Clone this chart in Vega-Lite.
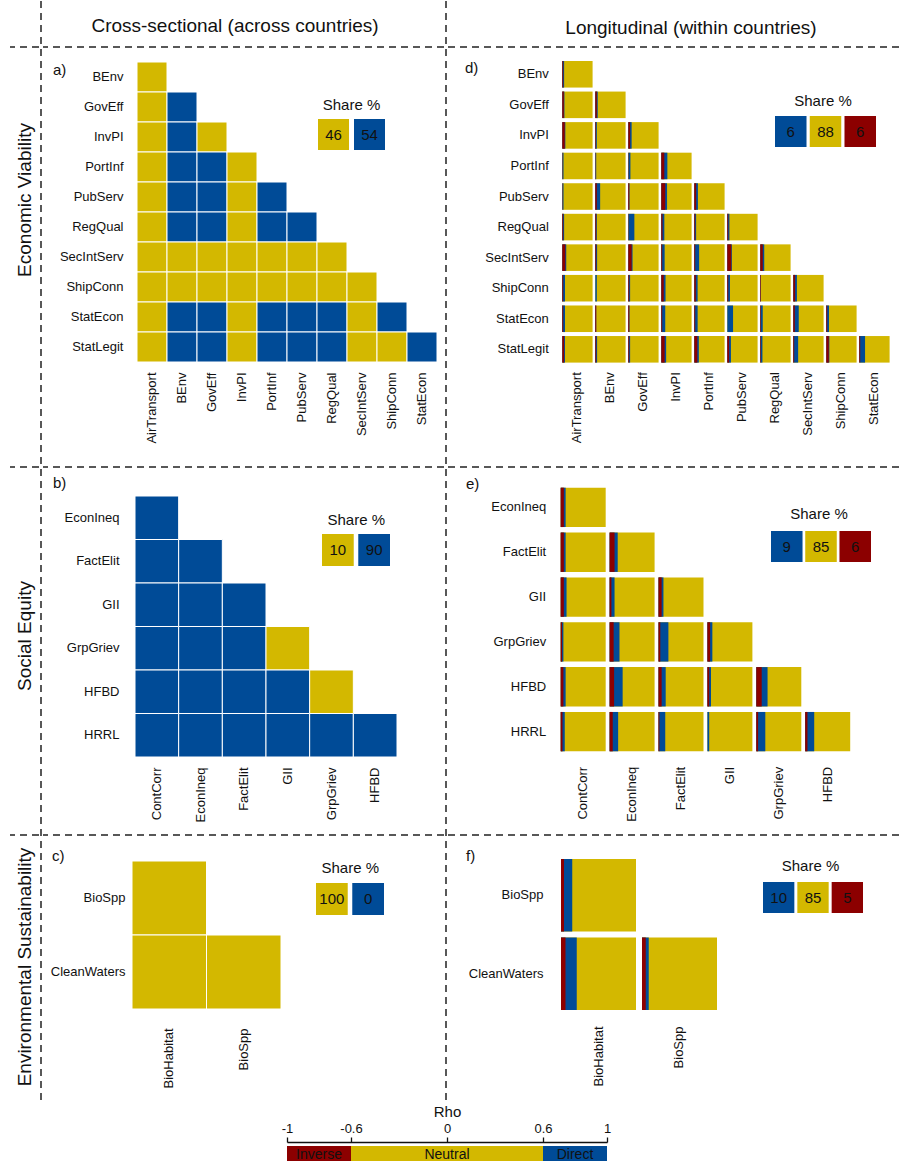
{
  "$schema": "https://vega.github.io/schema/vega-lite/v6.json",
  "padding": {"left": 9, "top": 0, "right": 0, "bottom": 0},
  "background": "white",
  "config": {
    "view": {"stroke": null},
    "font": "Liberation Sans",
    "axis": {"ticks": false, "domain": false, "grid": false, "labelFontSize": 13, "labelColor": "#111111"},
    "text": {"color": "#111111"}
  },
  "datasets": {
    "A": [
      {"r":"BEnv","c":"AirTransport","k":"Neutral"},
      {"r":"GovEff","c":"AirTransport","k":"Neutral"},{"r":"GovEff","c":"BEnv","k":"Direct"},
      {"r":"InvPI","c":"AirTransport","k":"Neutral"},{"r":"InvPI","c":"BEnv","k":"Direct"},{"r":"InvPI","c":"GovEff","k":"Neutral"},
      {"r":"PortInf","c":"AirTransport","k":"Neutral"},{"r":"PortInf","c":"BEnv","k":"Direct"},{"r":"PortInf","c":"GovEff","k":"Direct"},{"r":"PortInf","c":"InvPI","k":"Neutral"},
      {"r":"PubServ","c":"AirTransport","k":"Neutral"},{"r":"PubServ","c":"BEnv","k":"Direct"},{"r":"PubServ","c":"GovEff","k":"Direct"},{"r":"PubServ","c":"InvPI","k":"Neutral"},{"r":"PubServ","c":"PortInf","k":"Direct"},
      {"r":"RegQual","c":"AirTransport","k":"Neutral"},{"r":"RegQual","c":"BEnv","k":"Direct"},{"r":"RegQual","c":"GovEff","k":"Direct"},{"r":"RegQual","c":"InvPI","k":"Neutral"},{"r":"RegQual","c":"PortInf","k":"Direct"},{"r":"RegQual","c":"PubServ","k":"Direct"},
      {"r":"SecIntServ","c":"AirTransport","k":"Neutral"},{"r":"SecIntServ","c":"BEnv","k":"Neutral"},{"r":"SecIntServ","c":"GovEff","k":"Neutral"},{"r":"SecIntServ","c":"InvPI","k":"Neutral"},{"r":"SecIntServ","c":"PortInf","k":"Neutral"},{"r":"SecIntServ","c":"PubServ","k":"Neutral"},{"r":"SecIntServ","c":"RegQual","k":"Neutral"},
      {"r":"ShipConn","c":"AirTransport","k":"Neutral"},{"r":"ShipConn","c":"BEnv","k":"Neutral"},{"r":"ShipConn","c":"GovEff","k":"Neutral"},{"r":"ShipConn","c":"InvPI","k":"Neutral"},{"r":"ShipConn","c":"PortInf","k":"Neutral"},{"r":"ShipConn","c":"PubServ","k":"Neutral"},{"r":"ShipConn","c":"RegQual","k":"Neutral"},{"r":"ShipConn","c":"SecIntServ","k":"Neutral"},
      {"r":"StatEcon","c":"AirTransport","k":"Neutral"},{"r":"StatEcon","c":"BEnv","k":"Direct"},{"r":"StatEcon","c":"GovEff","k":"Direct"},{"r":"StatEcon","c":"InvPI","k":"Neutral"},{"r":"StatEcon","c":"PortInf","k":"Direct"},{"r":"StatEcon","c":"PubServ","k":"Direct"},{"r":"StatEcon","c":"RegQual","k":"Direct"},{"r":"StatEcon","c":"SecIntServ","k":"Neutral"},{"r":"StatEcon","c":"ShipConn","k":"Direct"},
      {"r":"StatLegit","c":"AirTransport","k":"Neutral"},{"r":"StatLegit","c":"BEnv","k":"Direct"},{"r":"StatLegit","c":"GovEff","k":"Direct"},{"r":"StatLegit","c":"InvPI","k":"Neutral"},{"r":"StatLegit","c":"PortInf","k":"Direct"},{"r":"StatLegit","c":"PubServ","k":"Direct"},{"r":"StatLegit","c":"RegQual","k":"Direct"},{"r":"StatLegit","c":"SecIntServ","k":"Neutral"},{"r":"StatLegit","c":"ShipConn","k":"Neutral"},{"r":"StatLegit","c":"StatEcon","k":"Direct"}
    ],
    "B": [
      {"r":"EconIneq","c":"ContCorr","k":"Direct"},
      {"r":"FactElit","c":"ContCorr","k":"Direct"},{"r":"FactElit","c":"EconIneq","k":"Direct"},
      {"r":"GII","c":"ContCorr","k":"Direct"},{"r":"GII","c":"EconIneq","k":"Direct"},{"r":"GII","c":"FactElit","k":"Direct"},
      {"r":"GrpGriev","c":"ContCorr","k":"Direct"},{"r":"GrpGriev","c":"EconIneq","k":"Direct"},{"r":"GrpGriev","c":"FactElit","k":"Direct"},{"r":"GrpGriev","c":"GII","k":"Neutral"},
      {"r":"HFBD","c":"ContCorr","k":"Direct"},{"r":"HFBD","c":"EconIneq","k":"Direct"},{"r":"HFBD","c":"FactElit","k":"Direct"},{"r":"HFBD","c":"GII","k":"Direct"},{"r":"HFBD","c":"GrpGriev","k":"Neutral"},
      {"r":"HRRL","c":"ContCorr","k":"Direct"},{"r":"HRRL","c":"EconIneq","k":"Direct"},{"r":"HRRL","c":"FactElit","k":"Direct"},{"r":"HRRL","c":"GII","k":"Direct"},{"r":"HRRL","c":"GrpGriev","k":"Direct"},{"r":"HRRL","c":"HFBD","k":"Direct"}
    ],
    "C": [
      {"r":"BioSpp","c":"BioHabitat","k":"Neutral"},
      {"r":"CleanWaters","c":"BioHabitat","k":"Neutral"},{"r":"CleanWaters","c":"BioSpp","k":"Neutral"}
    ],
    "D": [
      {"r":"BEnv","c":"AirTransport","inv":3,"dir":3,"neu":94},
      {"r":"GovEff","c":"AirTransport","inv":5,"dir":2,"neu":93},{"r":"GovEff","c":"BEnv","inv":5,"dir":3,"neu":92},
      {"r":"InvPI","c":"AirTransport","inv":8,"dir":2,"neu":90},{"r":"InvPI","c":"BEnv","inv":2,"dir":3,"neu":95},{"r":"InvPI","c":"GovEff","inv":6,"dir":5,"neu":89},
      {"r":"PortInf","c":"AirTransport","inv":1,"dir":3,"neu":96},{"r":"PortInf","c":"BEnv","inv":1,"dir":2,"neu":97},{"r":"PortInf","c":"GovEff","inv":1,"dir":6,"neu":93},{"r":"PortInf","c":"InvPI","inv":10,"dir":10,"neu":80},
      {"r":"PubServ","c":"AirTransport","inv":1,"dir":3,"neu":96},{"r":"PubServ","c":"BEnv","inv":5,"dir":11,"neu":84},{"r":"PubServ","c":"GovEff","inv":3,"dir":1,"neu":96},{"r":"PubServ","c":"InvPI","inv":13,"dir":6,"neu":81},{"r":"PubServ","c":"PortInf","inv":6,"dir":6,"neu":88},
      {"r":"RegQual","c":"AirTransport","inv":3,"dir":3,"neu":94},{"r":"RegQual","c":"BEnv","inv":3,"dir":2,"neu":95},{"r":"RegQual","c":"GovEff","inv":1,"dir":19,"neu":80},{"r":"RegQual","c":"InvPI","inv":4,"dir":6,"neu":90},{"r":"RegQual","c":"PortInf","inv":3,"dir":3,"neu":94},{"r":"RegQual","c":"PubServ","inv":3,"dir":4,"neu":93},
      {"r":"SecIntServ","c":"AirTransport","inv":10,"dir":3,"neu":87},{"r":"SecIntServ","c":"BEnv","inv":3,"dir":3,"neu":94},{"r":"SecIntServ","c":"GovEff","inv":11,"dir":3,"neu":86},{"r":"SecIntServ","c":"InvPI","inv":3,"dir":8,"neu":89},{"r":"SecIntServ","c":"PortInf","inv":3,"dir":13,"neu":84},{"r":"SecIntServ","c":"PubServ","inv":13,"dir":2,"neu":85},{"r":"SecIntServ","c":"RegQual","inv":8,"dir":5,"neu":87},
      {"r":"ShipConn","c":"AirTransport","inv":3,"dir":6,"neu":91},{"r":"ShipConn","c":"BEnv","inv":0,"dir":5,"neu":95},{"r":"ShipConn","c":"GovEff","inv":3,"dir":3,"neu":94},{"r":"ShipConn","c":"InvPI","inv":8,"dir":6,"neu":86},{"r":"ShipConn","c":"PortInf","inv":5,"dir":6,"neu":89},{"r":"ShipConn","c":"PubServ","inv":3,"dir":6,"neu":91},{"r":"ShipConn","c":"RegQual","inv":2,"dir":0,"neu":98},{"r":"ShipConn","c":"SecIntServ","inv":6,"dir":6,"neu":88},
      {"r":"StatEcon","c":"AirTransport","inv":3,"dir":6,"neu":91},{"r":"StatEcon","c":"BEnv","inv":3,"dir":0,"neu":97},{"r":"StatEcon","c":"GovEff","inv":3,"dir":1,"neu":96},{"r":"StatEcon","c":"InvPI","inv":3,"dir":10,"neu":87},{"r":"StatEcon","c":"PortInf","inv":3,"dir":8,"neu":89},{"r":"StatEcon","c":"PubServ","inv":0,"dir":19,"neu":81},{"r":"StatEcon","c":"RegQual","inv":2,"dir":6,"neu":92},{"r":"StatEcon","c":"SecIntServ","inv":5,"dir":13,"neu":82},{"r":"StatEcon","c":"ShipConn","inv":3,"dir":6,"neu":91},
      {"r":"StatLegit","c":"AirTransport","inv":6,"dir":3,"neu":91},{"r":"StatLegit","c":"BEnv","inv":3,"dir":3,"neu":94},{"r":"StatLegit","c":"GovEff","inv":3,"dir":3,"neu":94},{"r":"StatLegit","c":"InvPI","inv":11,"dir":5,"neu":84},{"r":"StatLegit","c":"PortInf","inv":10,"dir":5,"neu":85},{"r":"StatLegit","c":"PubServ","inv":6,"dir":6,"neu":88},{"r":"StatLegit","c":"RegQual","inv":2,"dir":5,"neu":93},{"r":"StatLegit","c":"SecIntServ","inv":3,"dir":13,"neu":84},{"r":"StatLegit","c":"ShipConn","inv":8,"dir":2,"neu":90},{"r":"StatLegit","c":"StatEcon","inv":3,"dir":16,"neu":81}
    ],
    "E": [
      {"r":"EconIneq","c":"ContCorr","inv":7,"dir":4,"neu":89},
      {"r":"FactElit","c":"ContCorr","inv":7,"dir":4,"neu":89},{"r":"FactElit","c":"EconIneq","inv":11,"dir":7,"neu":82},
      {"r":"GII","c":"ContCorr","inv":7,"dir":6,"neu":87},{"r":"GII","c":"EconIneq","inv":4,"dir":7,"neu":89},{"r":"GII","c":"FactElit","inv":7,"dir":4,"neu":89},
      {"r":"GrpGriev","c":"ContCorr","inv":3,"dir":3,"neu":94},{"r":"GrpGriev","c":"EconIneq","inv":9,"dir":13,"neu":78},{"r":"GrpGriev","c":"FactElit","inv":4,"dir":18,"neu":78},{"r":"GrpGriev","c":"GII","inv":6,"dir":5,"neu":89},
      {"r":"HFBD","c":"ContCorr","inv":6,"dir":5,"neu":89},{"r":"HFBD","c":"EconIneq","inv":10,"dir":19,"neu":71},{"r":"HFBD","c":"FactElit","inv":7,"dir":9,"neu":84},{"r":"HFBD","c":"GII","inv":4,"dir":4,"neu":92},{"r":"HFBD","c":"GrpGriev","inv":12,"dir":13,"neu":75},
      {"r":"HRRL","c":"ContCorr","inv":4,"dir":5,"neu":91},{"r":"HRRL","c":"EconIneq","inv":7,"dir":12,"neu":81},{"r":"HRRL","c":"FactElit","inv":2,"dir":13,"neu":85},{"r":"HRRL","c":"GII","inv":0,"dir":4,"neu":96},{"r":"HRRL","c":"GrpGriev","inv":4,"dir":16,"neu":80},{"r":"HRRL","c":"HFBD","inv":5,"dir":15,"neu":80}
    ],
    "F": [
      {"r":"BioSpp","c":"BioHabitat","inv":4,"dir":11,"neu":85},
      {"r":"CleanWaters","c":"BioHabitat","inv":6,"dir":15,"neu":79},{"r":"CleanWaters","c":"BioSpp","inv":5,"dir":4,"neu":91}
    ],
    "legA": [{"k":"Neutral","p":"46"},{"k":"Direct","p":"54"}],
    "legB": [{"k":"Neutral","p":"10"},{"k":"Direct","p":"90"}],
    "legC": [{"k":"Neutral","p":"100"},{"k":"Direct","p":"0"}],
    "legD": [{"k":"Direct","p":"6"},{"k":"Neutral","p":"88"},{"k":"Inverse","p":"6"}],
    "legE": [{"k":"Direct","p":"9"},{"k":"Neutral","p":"85"},{"k":"Inverse","p":"6"}],
    "legF": [{"k":"Direct","p":"10"},{"k":"Neutral","p":"85"},{"k":"Inverse","p":"5"}],
    "rho": [
      {"k":"Inverse","lo":-1,"hi":-0.6,"mid":-0.8},
      {"k":"Neutral","lo":-0.6,"hi":0.6,"mid":0},
      {"k":"Direct","lo":0.6,"hi":1,"mid":0.8}
    ]
  },
  "spacing": 0,
  "vconcat": [
    {
      "spacing": 0,
      "hconcat": [
        {
          "spacing": 0,
          "vconcat": [
            {"width": 29, "height": 45, "data": {"values": []}, "mark": "rect", "encoding": {}},
            {"width": 29, "height": 1, "data": {"values": [{}]}, "mark": {"type": "rule", "color": "#222222", "strokeWidth": 1.5, "strokeDash": [7, 5]}, "encoding": {"y": {"datum": 0, "type": "quantitative", "scale": {"domain": [0, 1]}, "axis": null}}},
            {"width": 29, "height": 418, "data": {"values": [{"t": "Economic Viability"}]}, "mark": {"type": "text", "angle": 270, "align": "center", "baseline": "alphabetic", "fontSize": 19, "dx": 57, "dy": 6}, "encoding": {"text": {"field": "t"}}},
            {"width": 29, "height": 1, "data": {"values": [{}]}, "mark": {"type": "rule", "color": "#222222", "strokeWidth": 1.5, "strokeDash": [7, 5]}, "encoding": {"y": {"datum": 0, "type": "quantitative", "scale": {"domain": [0, 1]}, "axis": null}}},
            {"width": 29, "height": 366, "data": {"values": [{"t": "Social Equity"}]}, "mark": {"type": "text", "angle": 270, "align": "center", "baseline": "alphabetic", "fontSize": 19, "dx": 15, "dy": 6}, "encoding": {"text": {"field": "t"}}},
            {"width": 29, "height": 1, "data": {"values": [{}]}, "mark": {"type": "rule", "color": "#222222", "strokeWidth": 1.5, "strokeDash": [7, 5]}, "encoding": {"y": {"datum": 0, "type": "quantitative", "scale": {"domain": [0, 1]}, "axis": null}}},
            {"width": 29, "height": 264, "data": {"values": [{"t": "Environmental Sustainability"}]}, "mark": {"type": "text", "angle": 270, "align": "center", "baseline": "alphabetic", "fontSize": 19, "dx": 1, "dy": 6}, "encoding": {"text": {"field": "t"}}}
          ]
        },
        {"width": 1, "height": 1099, "data": {"values": [{}]}, "mark": {"type": "rule", "color": "#222222", "strokeWidth": 1.5, "strokeDash": [7, 5]}, "encoding": {"x": {"datum": 0, "type": "quantitative", "scale": {"domain": [0, 1]}, "axis": null}}},
        {
          "spacing": 0,
          "vconcat": [
            {"width": 401, "height": 45, "data": {"values": [{"t": "Cross-sectional (across countries)"}]}, "mark": {"type": "text", "align": "center", "baseline": "alphabetic", "fontSize": 19, "dx": -8.5, "dy": 8.5}, "encoding": {"text": {"field": "t"}}},
            {"width": 401, "height": 1, "data": {"values": [{}]}, "mark": {"type": "rule", "color": "#222222", "strokeWidth": 1.5, "strokeDash": [7, 5]}, "encoding": {"y": {"datum": 0, "type": "quantitative", "scale": {"domain": [0, 1]}, "axis": null}}},
            {
              "width": 401, "height": 418,
              "layer": [
                {
                  "data": {"name": "A"},
                  "mark": {"type": "rect", "stroke": "#ffffff", "strokeWidth": 1},
                  "encoding": {
                    "x": {"field": "c", "type": "nominal", "scale": {"domain": ["AirTransport","BEnv","GovEff","InvPI","PortInf","PubServ","RegQual","SecIntServ","ShipConn","StatEcon"], "range": [94, 394], "paddingInner": 0, "paddingOuter": 0}, "axis": {"orient": "bottom", "offset": -104, "title": null, "labelAngle": -90, "labelPadding": 10}},
                    "y": {"field": "r", "type": "nominal", "scale": {"domain": ["BEnv","GovEff","InvPI","PortInf","PubServ","RegQual","SecIntServ","ShipConn","StatEcon","StatLegit"], "range": [14, 314], "paddingInner": 0, "paddingOuter": 0}, "axis": {"orient": "left", "offset": -94, "title": null, "labelPadding": 14}},
                    "color": {"field": "k", "type": "nominal", "scale": {"domain": ["Inverse","Neutral","Direct"], "range": ["#8c0000","#d3b800","#004b97"]}, "legend": null}
                  }
                },
                {
                  "layer": [
                    {"data": {"name": "legA"}, "mark": {"type": "rect"}, "encoding": {
                      "x": {"field": "k", "type": "nominal", "scale": {"domain": ["Neutral","Direct"], "range": [275, 342], "paddingInner": 0.139, "paddingOuter": 0}, "axis": null},
                      "y": {"datum": "box", "type": "nominal", "scale": {"domain": ["box"], "range": [71, 102], "paddingInner": 0, "paddingOuter": 0}, "axis": null},
                      "color": {"field": "k", "type": "nominal", "scale": {"domain": ["Inverse","Neutral","Direct"], "range": ["#8c0000","#d3b800","#004b97"]}, "legend": null}}},
                    {"data": {"name": "legA"}, "mark": {"type": "text", "fontSize": 15}, "encoding": {
                      "x": {"field": "k", "type": "nominal"}, "y": {"datum": "box", "type": "nominal"}, "text": {"field": "p", "type": "nominal"}}},
                    {"data": {"values": [{"t": "Share %"}]}, "mark": {"type": "text", "fontSize": 15, "baseline": "alphabetic", "dx": 2.5, "dy": -9}, "encoding": {
                      "x": {"datum": "Neutral", "type": "nominal", "bandPosition": 1}, "y": {"datum": "box", "type": "nominal", "bandPosition": 0}, "text": {"field": "t"}}}
                  ]
                },
                {"data": {"values": [{"t": "a)"}]}, "mark": {"type": "text", "align": "left", "baseline": "middle", "fontSize": 15, "dx": -190.5, "dy": -187}, "encoding": {"text": {"field": "t"}}}
              ],
              "resolve": {"scale": {"x": "independent", "y": "independent"}}
            },
            {"width": 401, "height": 1, "data": {"values": [{}]}, "mark": {"type": "rule", "color": "#222222", "strokeWidth": 1.5, "strokeDash": [7, 5]}, "encoding": {"y": {"datum": 0, "type": "quantitative", "scale": {"domain": [0, 1]}, "axis": null}}},
            {
              "width": 401, "height": 366,
              "layer": [
                {
                  "data": {"name": "B"},
                  "mark": {"type": "rect", "stroke": "#ffffff", "strokeWidth": 1},
                  "encoding": {
                    "x": {"field": "c", "type": "nominal", "scale": {"domain": ["ContCorr","EconIneq","FactElit","GII","GrpGriev","HFBD"], "range": [92, 354], "paddingInner": 0, "paddingOuter": 0}, "axis": {"orient": "bottom", "offset": -77, "title": null, "labelAngle": -90, "labelPadding": 10}},
                    "y": {"field": "r", "type": "nominal", "scale": {"domain": ["EconIneq","FactElit","GII","GrpGriev","HFBD","HRRL"], "range": [28, 289], "paddingInner": 0, "paddingOuter": 0}, "axis": {"orient": "left", "offset": -92, "title": null, "labelPadding": 16}},
                    "color": {"field": "k", "type": "nominal", "scale": {"domain": ["Inverse","Neutral","Direct"], "range": ["#8c0000","#d3b800","#004b97"]}, "legend": null}
                  }
                },
                {
                  "layer": [
                    {"data": {"name": "legB"}, "mark": {"type": "rect"}, "encoding": {
                      "x": {"field": "k", "type": "nominal", "scale": {"domain": ["Neutral","Direct"], "range": [279, 347], "paddingInner": 0.125, "paddingOuter": 0}, "axis": null},
                      "y": {"datum": "box", "type": "nominal", "scale": {"domain": ["box"], "range": [66, 98], "paddingInner": 0, "paddingOuter": 0}, "axis": null},
                      "color": {"field": "k", "type": "nominal", "scale": {"domain": ["Inverse","Neutral","Direct"], "range": ["#8c0000","#d3b800","#004b97"]}, "legend": null}}},
                    {"data": {"name": "legB"}, "mark": {"type": "text", "fontSize": 15}, "encoding": {
                      "x": {"field": "k", "type": "nominal"}, "y": {"datum": "box", "type": "nominal"}, "text": {"field": "p", "type": "nominal"}}},
                    {"data": {"values": [{"t": "Share %"}]}, "mark": {"type": "text", "fontSize": 15, "baseline": "alphabetic", "dx": 2.5, "dy": -9}, "encoding": {
                      "x": {"datum": "Neutral", "type": "nominal", "bandPosition": 1}, "y": {"datum": "box", "type": "nominal", "bandPosition": 0}, "text": {"field": "t"}}}
                  ]
                },
                {"data": {"values": [{"t": "b)"}]}, "mark": {"type": "text", "align": "left", "baseline": "middle", "fontSize": 15, "dx": -190.5, "dy": -168}, "encoding": {"text": {"field": "t"}}}
              ],
              "resolve": {"scale": {"x": "independent", "y": "independent"}}
            },
            {"width": 401, "height": 1, "data": {"values": [{}]}, "mark": {"type": "rule", "color": "#222222", "strokeWidth": 1.5, "strokeDash": [7, 5]}, "encoding": {"y": {"datum": 0, "type": "quantitative", "scale": {"domain": [0, 1]}, "axis": null}}},
            {
              "width": 401, "height": 264,
              "layer": [
                {
                  "data": {"name": "C"},
                  "mark": {"type": "rect", "stroke": "#ffffff", "strokeWidth": 1},
                  "encoding": {
                    "x": {"field": "c", "type": "nominal", "scale": {"domain": ["BioHabitat","BioSpp"], "range": [89, 238], "paddingInner": 0, "paddingOuter": 0}, "axis": {"orient": "bottom", "offset": -91, "title": null, "labelAngle": -90, "labelPadding": 19}},
                    "y": {"field": "r", "type": "nominal", "scale": {"domain": ["BioSpp","CleanWaters"], "range": [25, 173], "paddingInner": 0, "paddingOuter": 0}, "axis": {"orient": "left", "offset": -89, "title": null, "labelPadding": 7}},
                    "color": {"field": "k", "type": "nominal", "scale": {"domain": ["Inverse","Neutral","Direct"], "range": ["#8c0000","#d3b800","#004b97"]}, "legend": null}
                  }
                },
                {
                  "layer": [
                    {"data": {"name": "legC"}, "mark": {"type": "rect"}, "encoding": {
                      "x": {"field": "k", "type": "nominal", "scale": {"domain": ["Neutral","Direct"], "range": [273, 341], "paddingInner": 0.125, "paddingOuter": 0}, "axis": null},
                      "y": {"datum": "box", "type": "nominal", "scale": {"domain": ["box"], "range": [47, 79], "paddingInner": 0, "paddingOuter": 0}, "axis": null},
                      "color": {"field": "k", "type": "nominal", "scale": {"domain": ["Inverse","Neutral","Direct"], "range": ["#8c0000","#d3b800","#004b97"]}, "legend": null}}},
                    {"data": {"name": "legC"}, "mark": {"type": "text", "fontSize": 15}, "encoding": {
                      "x": {"field": "k", "type": "nominal"}, "y": {"datum": "box", "type": "nominal"}, "text": {"field": "p", "type": "nominal"}}},
                    {"data": {"values": [{"t": "Share %"}]}, "mark": {"type": "text", "fontSize": 15, "baseline": "alphabetic", "dx": 2.5, "dy": -10}, "encoding": {
                      "x": {"datum": "Neutral", "type": "nominal", "bandPosition": 1}, "y": {"datum": "box", "type": "nominal", "bandPosition": 0}, "text": {"field": "t"}}}
                  ]
                },
                {"data": {"values": [{"t": "c)"}]}, "mark": {"type": "text", "align": "left", "baseline": "middle", "fontSize": 15, "dx": -191.5, "dy": -112}, "encoding": {"text": {"field": "t"}}}
              ],
              "resolve": {"scale": {"x": "independent", "y": "independent"}}
            }
          ]
        },
        {"width": 1, "height": 1099, "data": {"values": [{}]}, "mark": {"type": "rule", "color": "#222222", "strokeWidth": 1.5, "strokeDash": [7, 5]}, "encoding": {"x": {"datum": 0, "type": "quantitative", "scale": {"domain": [0, 1]}, "axis": null}}},
        {
          "spacing": 0,
          "vconcat": [
            {"width": 451, "height": 45, "data": {"values": [{"t": "Longitudinal (within countries)"}]}, "mark": {"type": "text", "align": "center", "baseline": "alphabetic", "fontSize": 19, "dx": 17.5, "dy": 10.5}, "encoding": {"text": {"field": "t"}}},
            {"width": 451, "height": 1, "data": {"values": [{}]}, "mark": {"type": "rule", "color": "#222222", "strokeWidth": 1.5, "strokeDash": [7, 5]}, "encoding": {"y": {"datum": 0, "type": "quantitative", "scale": {"domain": [0, 1]}, "axis": null}}},
            {
              "width": 451, "height": 418,
              "layer": [
                {
                  "data": {"name": "D"},
                  "layer": [
                    {"mark": {"type": "rect", "color": "#d3b800"}, "encoding": {
                      "x": {"field": "c", "type": "nominal", "scale": {"domain": ["AirTransport","BEnv","GovEff","InvPI","PortInf","PubServ","RegQual","SecIntServ","ShipConn","StatEcon"], "range": [114.3, 441.6], "paddingInner": 0.082, "paddingOuter": 0}, "axis": {"orient": "bottom", "offset": -103.3, "title": null, "labelAngle": -90, "labelPadding": 9}},
                      "y": {"field": "r", "type": "nominal", "scale": {"domain": ["BEnv","GovEff","InvPI","PortInf","PubServ","RegQual","SecIntServ","ShipConn","StatEcon","StatLegit"], "range": [13, 314.6], "paddingInner": 0.131, "paddingOuter": 0}, "axis": {"orient": "left", "offset": -114.3, "title": null, "labelPadding": 14}}}},
                    {"mark": {"type": "bar", "orient": "vertical", "align": "left", "color": "#004b97"}, "encoding": {
                      "x": {"field": "c", "type": "nominal"}, "y": {"field": "r", "type": "nominal"},
                      "size": {"field": "neu", "type": "quantitative", "scale": {"domain": [0, 100], "range": [30.29, 0]}, "legend": null}}},
                    {"mark": {"type": "bar", "orient": "vertical", "align": "left", "color": "#8c0000"}, "encoding": {
                      "x": {"field": "c", "type": "nominal"}, "y": {"field": "r", "type": "nominal"},
                      "size": {"field": "inv", "type": "quantitative", "scale": {"domain": [0, 100], "range": [0, 30.29]}, "legend": null}}}
                  ],
                  "resolve": {"scale": {"size": "independent"}}
                },
                {
                  "layer": [
                    {"data": {"name": "legD"}, "mark": {"type": "rect"}, "encoding": {
                      "x": {"field": "k", "type": "nominal", "scale": {"domain": ["Direct","Neutral","Inverse"], "range": [327, 428], "paddingInner": 0.093, "paddingOuter": 0}, "axis": null},
                      "y": {"datum": "box", "type": "nominal", "scale": {"domain": ["box"], "range": [68, 99], "paddingInner": 0, "paddingOuter": 0}, "axis": null},
                      "color": {"field": "k", "type": "nominal", "scale": {"domain": ["Inverse","Neutral","Direct"], "range": ["#8c0000","#d3b800","#004b97"]}, "legend": null}}},
                    {"data": {"name": "legD"}, "mark": {"type": "text", "fontSize": 15}, "encoding": {
                      "x": {"field": "k", "type": "nominal"}, "y": {"datum": "box", "type": "nominal"}, "text": {"field": "p", "type": "nominal"}}},
                    {"data": {"values": [{"t": "Share %"}]}, "mark": {"type": "text", "fontSize": 15, "baseline": "alphabetic", "dx": -2.5, "dy": -10}, "encoding": {
                      "x": {"datum": "Neutral", "type": "nominal", "bandPosition": 0.5}, "y": {"datum": "box", "type": "nominal", "bandPosition": 0}, "text": {"field": "t"}}}
                  ]
                },
                {"data": {"values": [{"t": "d)"}]}, "mark": {"type": "text", "align": "left", "baseline": "middle", "fontSize": 15, "dx": -208.5, "dy": -189}, "encoding": {"text": {"field": "t"}}}
              ],
              "resolve": {"scale": {"x": "independent", "y": "independent"}}
            },
            {"width": 451, "height": 1, "data": {"values": [{}]}, "mark": {"type": "rule", "color": "#222222", "strokeWidth": 1.5, "strokeDash": [7, 5]}, "encoding": {"y": {"datum": 0, "type": "quantitative", "scale": {"domain": [0, 1]}, "axis": null}}},
            {
              "width": 451, "height": 366,
              "layer": [
                {
                  "data": {"name": "E"},
                  "layer": [
                    {"mark": {"type": "rect", "color": "#d3b800"}, "encoding": {
                      "x": {"field": "c", "type": "nominal", "scale": {"domain": ["ContCorr","EconIneq","FactElit","GII","GrpGriev","HFBD"], "range": [112.7, 402.2], "paddingInner": 0.08, "paddingOuter": 0}, "axis": {"orient": "bottom", "offset": -82.7, "title": null, "labelAngle": -90, "labelPadding": 15}},
                      "y": {"field": "r", "type": "nominal", "scale": {"domain": ["EconIneq","FactElit","GII","GrpGriev","HFBD","HRRL"], "range": [19.7, 283.3], "paddingInner": 0.123, "paddingOuter": 0}, "axis": {"orient": "left", "offset": -112.7, "title": null, "labelPadding": 15}}}},
                    {"mark": {"type": "bar", "orient": "vertical", "align": "left", "color": "#004b97"}, "encoding": {
                      "x": {"field": "c", "type": "nominal"}, "y": {"field": "r", "type": "nominal"},
                      "size": {"field": "neu", "type": "quantitative", "scale": {"domain": [0, 100], "range": [44.99, 0]}, "legend": null}}},
                    {"mark": {"type": "bar", "orient": "vertical", "align": "left", "color": "#8c0000"}, "encoding": {
                      "x": {"field": "c", "type": "nominal"}, "y": {"field": "r", "type": "nominal"},
                      "size": {"field": "inv", "type": "quantitative", "scale": {"domain": [0, 100], "range": [0, 44.99]}, "legend": null}}}
                  ],
                  "resolve": {"scale": {"size": "independent"}}
                },
                {
                  "layer": [
                    {"data": {"name": "legE"}, "mark": {"type": "rect"}, "encoding": {
                      "x": {"field": "k", "type": "nominal", "scale": {"domain": ["Direct","Neutral","Inverse"], "range": [323, 423], "paddingInner": 0.079, "paddingOuter": 0}, "axis": null},
                      "y": {"datum": "box", "type": "nominal", "scale": {"domain": ["box"], "range": [63, 94], "paddingInner": 0, "paddingOuter": 0}, "axis": null},
                      "color": {"field": "k", "type": "nominal", "scale": {"domain": ["Inverse","Neutral","Direct"], "range": ["#8c0000","#d3b800","#004b97"]}, "legend": null}}},
                    {"data": {"name": "legE"}, "mark": {"type": "text", "fontSize": 15}, "encoding": {
                      "x": {"field": "k", "type": "nominal"}, "y": {"datum": "box", "type": "nominal"}, "text": {"field": "p", "type": "nominal"}}},
                    {"data": {"values": [{"t": "Share %"}]}, "mark": {"type": "text", "fontSize": 15, "baseline": "alphabetic", "dx": -2, "dy": -12}, "encoding": {
                      "x": {"datum": "Neutral", "type": "nominal", "bandPosition": 0.5}, "y": {"datum": "box", "type": "nominal", "bandPosition": 0}, "text": {"field": "t"}}}
                  ]
                },
                {"data": {"values": [{"t": "e)"}]}, "mark": {"type": "text", "align": "left", "baseline": "middle", "fontSize": 15, "dx": -207.5, "dy": -167}, "encoding": {"text": {"field": "t"}}}
              ],
              "resolve": {"scale": {"x": "independent", "y": "independent"}}
            },
            {"width": 451, "height": 1, "data": {"values": [{}]}, "mark": {"type": "rule", "color": "#222222", "strokeWidth": 1.5, "strokeDash": [7, 5]}, "encoding": {"y": {"datum": 0, "type": "quantitative", "scale": {"domain": [0, 1]}, "axis": null}}},
            {
              "width": 451, "height": 264,
              "layer": [
                {
                  "data": {"name": "F"},
                  "layer": [
                    {"mark": {"type": "rect", "color": "#d3b800"}, "encoding": {
                      "x": {"field": "c", "type": "nominal", "scale": {"domain": ["BioHabitat","BioSpp"], "range": [113, 269], "paddingInner": 0.074, "paddingOuter": 0}, "axis": {"orient": "bottom", "offset": -90, "title": null, "labelAngle": -90, "labelPadding": 16}},
                      "y": {"field": "r", "type": "nominal", "scale": {"domain": ["BioSpp","CleanWaters"], "range": [23, 174], "paddingInner": 0.077, "paddingOuter": 0}, "axis": {"orient": "left", "offset": -113, "title": null, "labelPadding": 18}}}},
                    {"mark": {"type": "bar", "orient": "vertical", "align": "left", "color": "#004b97"}, "encoding": {
                      "x": {"field": "c", "type": "nominal"}, "y": {"field": "r", "type": "nominal"},
                      "size": {"field": "neu", "type": "quantitative", "scale": {"domain": [0, 100], "range": [75, 0]}, "legend": null}}},
                    {"mark": {"type": "bar", "orient": "vertical", "align": "left", "color": "#8c0000"}, "encoding": {
                      "x": {"field": "c", "type": "nominal"}, "y": {"field": "r", "type": "nominal"},
                      "size": {"field": "inv", "type": "quantitative", "scale": {"domain": [0, 100], "range": [0, 75]}, "legend": null}}}
                  ],
                  "resolve": {"scale": {"size": "independent"}}
                },
                {
                  "layer": [
                    {"data": {"name": "legF"}, "mark": {"type": "rect"}, "encoding": {
                      "x": {"field": "k", "type": "nominal", "scale": {"domain": ["Direct","Neutral","Inverse"], "range": [315, 415], "paddingInner": 0.087, "paddingOuter": 0}, "axis": null},
                      "y": {"datum": "box", "type": "nominal", "scale": {"domain": ["box"], "range": [46, 77], "paddingInner": 0, "paddingOuter": 0}, "axis": null},
                      "color": {"field": "k", "type": "nominal", "scale": {"domain": ["Inverse","Neutral","Direct"], "range": ["#8c0000","#d3b800","#004b97"]}, "legend": null}}},
                    {"data": {"name": "legF"}, "mark": {"type": "text", "fontSize": 15}, "encoding": {
                      "x": {"field": "k", "type": "nominal"}, "y": {"datum": "box", "type": "nominal"}, "text": {"field": "p", "type": "nominal"}}},
                    {"data": {"values": [{"t": "Share %"}]}, "mark": {"type": "text", "fontSize": 15, "baseline": "alphabetic", "dx": -2.5, "dy": -11}, "encoding": {
                      "x": {"datum": "Neutral", "type": "nominal", "bandPosition": 0.5}, "y": {"datum": "box", "type": "nominal", "bandPosition": 0}, "text": {"field": "t"}}}
                  ]
                },
                {"data": {"values": [{"t": "f)"}]}, "mark": {"type": "text", "align": "left", "baseline": "middle", "fontSize": 15, "dx": -207.5, "dy": -112}, "encoding": {"text": {"field": "t"}}}
              ],
              "resolve": {"scale": {"x": "independent", "y": "independent"}}
            }
          ]
        }
      ]
    },
    {
      "spacing": 0,
      "hconcat": [
        {"width": 271, "height": 1, "data": {"values": []}, "mark": "rect", "encoding": {}},
        {
          "spacing": 0,
          "vconcat": [
            {"width": 320, "height": 45, "data": {"name": "rho"}, "mark": {"type": "rect", "opacity": 0}, "encoding": {
              "x": {"field": "lo", "type": "quantitative", "scale": {"domain": [-1, 1], "nice": false, "zero": false}, "axis": {"orient": "top", "offset": -41, "values": [-1, -0.6, 0, 0.6, 1], "labelExpr": "'' + datum.value", "ticks": true, "tickSize": 5, "tickColor": "#111111", "tickWidth": 1.3, "domain": true, "domainColor": "#111111", "domainWidth": 1.3, "labelPadding": 2, "labelFontSize": 13, "labelFlush": false, "labelOverlap": false, "title": "Rho", "titleFontSize": 15, "titleFontWeight": "normal", "titleColor": "#111111", "titlePadding": 3}},
              "x2": {"field": "hi"}}},
            {"width": 320, "height": 15, "data": {"name": "rho"}, "layer": [
              {"mark": {"type": "rect"}, "encoding": {
                "x": {"field": "lo", "type": "quantitative", "scale": {"domain": [-1, 1], "nice": false, "zero": false}, "axis": null},
                "x2": {"field": "hi"},
                "color": {"field": "k", "type": "nominal", "scale": {"domain": ["Inverse","Neutral","Direct"], "range": ["#8c0000","#d3b800","#004b97"]}, "legend": null}}},
              {"mark": {"type": "text", "fontSize": 14, "baseline": "middle", "dy": 1.5}, "encoding": {
                "x": {"field": "mid", "type": "quantitative"}, "text": {"field": "k"}}}
            ]}
          ]
        }
      ]
    }
  ]
}
